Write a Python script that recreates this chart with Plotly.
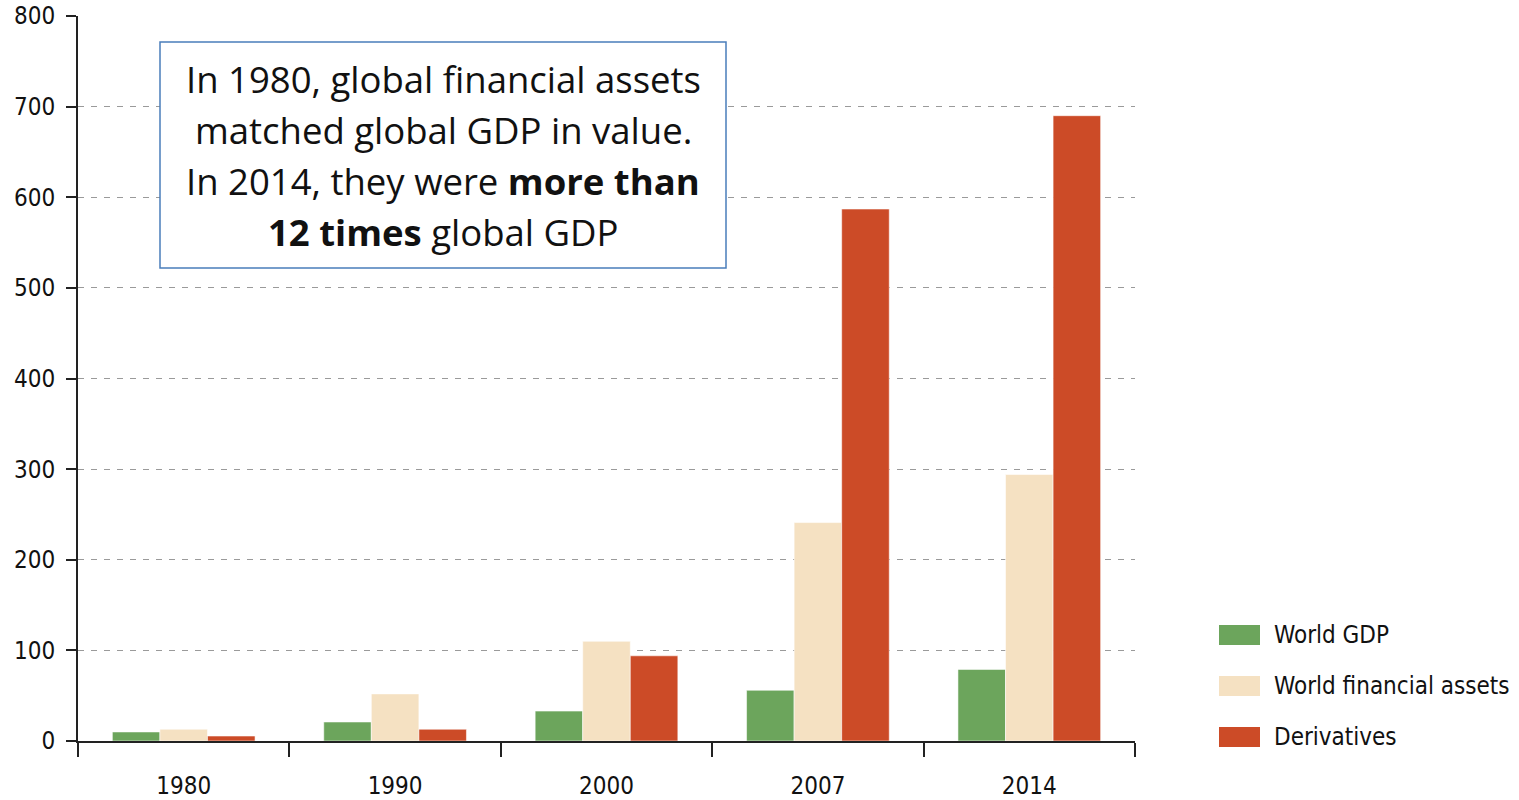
import plotly.graph_objects as go

# Values in trillions of US dollars
years = ["1980", "1990", "2000", "2007", "2014"]
world_gdp = [10, 21, 33, 56, 79]
financial_assets = [13, 52, 110, 241, 294]
derivatives = [5.5, 13, 94, 587, 690]

series_names = ["World GDP", "World financial assets", "Derivatives"]
series_colors = ["#6ca55c", "#f5e1c2", "#cc4b27"]
series_values = [world_gdp, financial_assets, derivatives]

y_ticks = [0, 100, 200, 300, 400, 500, 600, 700, 800]

W, H = 1519, 800
PL, PR, PT, PB = 78, 1135, 16, 741  # plot area in pixels

NARROW = "Liberation Sans Narrow, DejaVu Sans Condensed, Roboto Condensed, Roboto, sans-serif"


def px(x):
    return (x - PL) / (PR - PL)


def py(y):
    return (PB - y) / (PB - PT)


fig = go.Figure()
for name, color, vals in zip(series_names, series_colors, series_values):
    fig.add_trace(go.Bar(
        x=years, y=vals, name=name,
        marker=dict(color=color, line=dict(color="rgba(255,255,255,0.55)", width=1)),
        showlegend=False,
    ))

fig.update_layout(
    width=W, height=H,
    margin=dict(l=PL, r=W - PR, t=PT, b=H - PB, pad=0, autoexpand=False),
    paper_bgcolor="white", plot_bgcolor="white",
    barmode="group", bargap=0.325, bargroupgap=0,
    font=dict(family=NARROW, color="#111"),
    xaxis=dict(
        type="category", tickson="boundaries", automargin=False,
        ticks="outside", ticklen=14, tickwidth=2, tickcolor="#222",
        showline=True, linecolor="#222", linewidth=2,
        showgrid=False, zeroline=False,
        tickfont=dict(family=NARROW, size=24, color="#111"),
        ticklabelstandoff=22,
    ),
    yaxis=dict(
        range=[0, 800], tickvals=y_ticks, automargin=False,
        ticks="outside", ticklen=10, tickwidth=2, tickcolor="#222",
        showline=True, linecolor="#222", linewidth=2,
        showgrid=True, gridcolor="#9a9a9a", gridwidth=1, griddash="6px,7px",
        zeroline=False,
        tickfont=dict(family=NARROW, size=24, color="#111"),
        ticklabelstandoff=6,
    ),
)

# Callout box
fig.add_shape(type="rect", xref="paper", yref="paper",
              x0=px(160), x1=px(726), y0=py(42), y1=py(268),
              line=dict(color="#4a7ebb", width=1.5), fillcolor="white", layer="above")

callout_lines = [
    "In 1980, global financial assets",
    "matched global GDP in value.",
    "In 2014, they were <b>more than</b>",
    "<b>12 times</b> global GDP",
]
for i, line in enumerate(callout_lines):
    fig.add_annotation(
        xref="paper", yref="paper", x=px(443), y=py(79 + 51 * i),
        text=line, showarrow=False, xanchor="center", yanchor="middle",
        font=dict(family="Open Sans", size=36.5, color="#111"),
    )

# Legend
legend_y = [635, 686, 737]
for name, color, yc in zip(series_names, series_colors, legend_y):
    fig.add_shape(type="rect", xref="paper", yref="paper",
                  x0=px(1219), x1=px(1260), y0=py(yc - 10), y1=py(yc + 10),
                  line=dict(width=0), fillcolor=color)
    fig.add_annotation(
        xref="paper", yref="paper", x=px(1272), y=py(yc),
        text=name, showarrow=False, xanchor="left", yanchor="middle",
        font=dict(family=NARROW, size=24, color="#111"),
    )

fig.write_html("out.html")
